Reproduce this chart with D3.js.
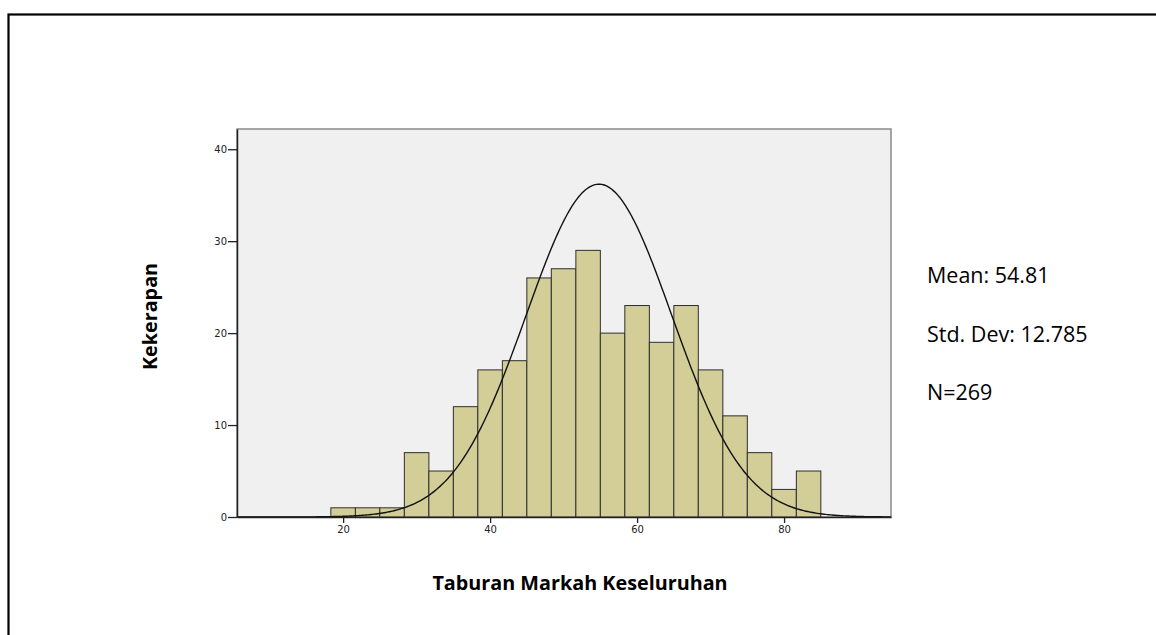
<!DOCTYPE html>
<html>
<head>
<meta charset="utf-8">
<script src="https://cdn.jsdelivr.net/npm/d3@7"></script>
<style>
  html, body { margin: 0; padding: 0; background: #ffffff; }
  svg { display: block; }
</style>
</head>
<body>
<svg id="chart" width="1156" height="635"></svg>
<script>
// ---- data ----
const binLower = [18.33, 21.67, 25.00, 28.33, 31.67, 35.00, 38.33, 41.67, 45.00, 48.33,
                  51.67, 55.00, 58.33, 61.67, 65.00, 68.33, 71.67, 75.00, 78.33, 81.67];
const binUpper = [21.67, 25.00, 28.33, 31.67, 35.00, 38.33, 41.67, 45.00, 48.33, 51.67,
                  55.00, 58.33, 61.67, 65.00, 68.33, 71.67, 75.00, 78.33, 81.67, 85.00];
const counts   = [1, 1, 1, 7, 5, 12, 16, 17, 26, 27, 29, 20, 23, 19, 23, 16, 11, 7, 3, 5];
const xTicks = [20, 40, 60, 80];
const yTicks = [0, 10, 20, 30, 40];
const curveMean = 54.81;   // centre of the drawn normal curve
const curveSd = 9.9;       // spread of the drawn curve
const curvePeak = 36.2;    // height of the drawn curve at its centre
const statLines = ["Mean: 54.81", "Std. Dev: 12.785", "N=269"];
const xTitle = "Taburan Markah Keseluruhan";
const yTitle = "Kekerapan";

// ---- layout ----
const svg = d3.select("#chart");
const L = 237, R = 891, T = 129, B = 517;

const x = d3.scaleLinear().domain([5.56, 94.55]).range([L, R]);
const y = d3.scaleLinear().domain([0, 42.2]).range([B, T]);

// outer frame (open on the right/bottom, cut by page)
svg.append("rect")
  .attr("x", 8.5).attr("y", 14.5)
  .attr("width", 1200).attr("height", 700)
  .attr("fill", "none").attr("stroke", "#000").attr("stroke-width", 2.2);

// plot background
svg.append("rect")
  .attr("x", L).attr("y", T).attr("width", R - L).attr("height", B - T)
  .attr("fill", "#f0f0f0").attr("stroke", "#8a8a8a").attr("stroke-width", 1.5);

// bars
const bars = binLower.map((lo, i) => ({lo, hi: binUpper[i], c: counts[i]}));
svg.append("g").selectAll("rect").data(bars).join("rect")
  .attr("x", d => x(d.lo))
  .attr("y", d => y(d.c))
  .attr("width", d => x(d.hi) - x(d.lo))
  .attr("height", d => y(0) - y(d.c))
  .attr("fill", "#d3ce98")
  .attr("stroke", "#2e2e2e")
  .attr("stroke-width", 1);

// normal curve
const dom = x.domain();
const pts = d3.range(0, 401).map(k => {
  const v = dom[0] + (dom[1] - dom[0]) * k / 400;
  const z = (v - curveMean) / curveSd;
  return [v, curvePeak * Math.exp(-0.5 * z * z)];
});
svg.append("path")
  .datum(pts)
  .attr("d", d3.line().x(d => x(d[0])).y(d => y(d[1])))
  .attr("fill", "none").attr("stroke", "#111").attr("stroke-width", 1.4);

// axes
const xAxis = d3.axisBottom(x).tickValues(xTicks).tickSizeInner(6).tickSizeOuter(0)
  .tickPadding(3).tickFormat(d3.format("d"));
const gx = svg.append("g").attr("transform", `translate(0,${B})`).call(xAxis);
gx.select(".domain").attr("stroke", "#222").attr("stroke-width", 1.5);
gx.selectAll(".tick line").attr("stroke", "#222").attr("stroke-width", 1.3);
gx.selectAll("text").attr("font-family", "DejaVu Sans, sans-serif").attr("font-size", 10).attr("fill", "#222");

const yAxis = d3.axisLeft(y).tickValues(yTicks).tickSizeInner(9).tickSizeOuter(0)
  .tickPadding(1).tickFormat(d3.format("d"));
const gy = svg.append("g").attr("transform", `translate(${L},0)`).call(yAxis);
gy.select(".domain").attr("stroke", "#222").attr("stroke-width", 1.5);
gy.selectAll(".tick line").attr("stroke", "#222").attr("stroke-width", 1.3);
gy.selectAll("text").attr("font-family", "DejaVu Sans, sans-serif").attr("font-size", 10).attr("fill", "#222");

// titles
svg.append("text")
  .attr("x", 580).attr("y", 590)
  .attr("text-anchor", "middle")
  .attr("font-family", "Open Sans, sans-serif").attr("font-weight", "bold")
  .attr("font-size", 19.8).attr("fill", "#000")
  .text(xTitle);

svg.append("text")
  .attr("transform", "translate(157,316.5) rotate(-90)")
  .attr("text-anchor", "middle")
  .attr("font-family", "Open Sans, sans-serif").attr("font-weight", "bold")
  .attr("font-size", 19.8).attr("fill", "#000")
  .text(yTitle);

// stats
svg.append("g").selectAll("text").data(statLines).join("text")
  .attr("x", 927)
  .attr("y", (d, i) => 283 + i * 58.5)
  .attr("font-family", "Open Sans, sans-serif")
  .attr("font-size", 21.5).attr("fill", "#000")
  .text(d => d);
</script>
</body>
</html>
